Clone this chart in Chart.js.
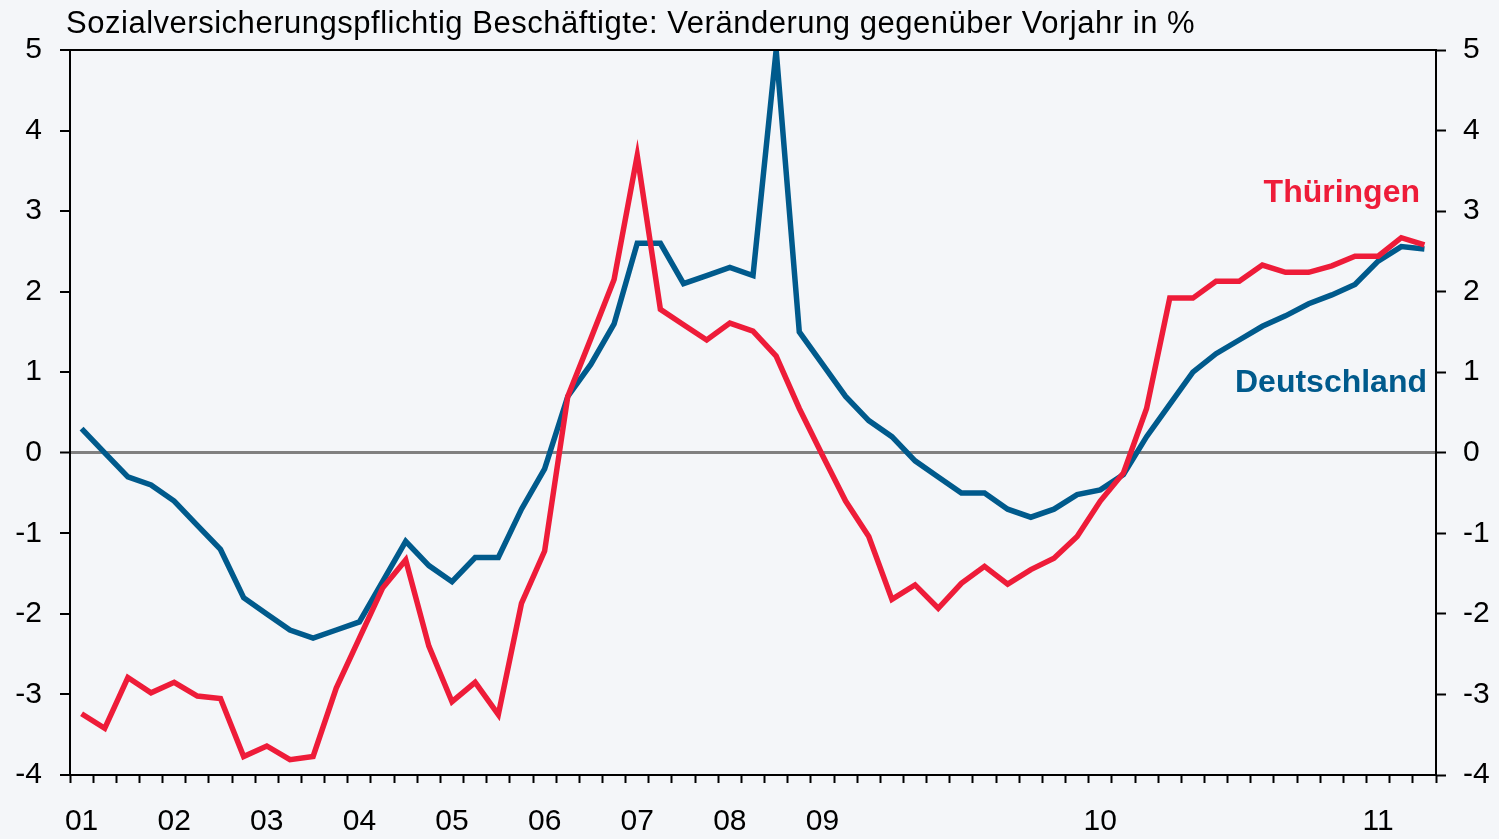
<!DOCTYPE html>
<html>
<head>
<meta charset="utf-8">
<script src="https://cdn.jsdelivr.net/npm/chart.js@4.4.1/dist/chart.umd.min.js"></script>
<style>
    html, body { margin: 0; padding: 0; background: #F4F6F9; }
    #wrap { width: 1499px; height: 839px; position: relative; }
</style>
</head>
<body>
<div id="wrap"><canvas id="beschChart"></canvas></div>
<script>
// Quarterly 2001-2008, monthly from 2009 on
const categories = [
    '2001-Q1', '2001-Q2', '2001-Q3', '2001-Q4', '2002-Q1', '2002-Q2', '2002-Q3', '2002-Q4',
    '2003-Q1', '2003-Q2', '2003-Q3', '2003-Q4', '2004-Q1', '2004-Q2', '2004-Q3', '2004-Q4',
    '2005-Q1', '2005-Q2', '2005-Q3', '2005-Q4', '2006-Q1', '2006-Q2', '2006-Q3', '2006-Q4',
    '2007-Q1', '2007-Q2', '2007-Q3', '2007-Q4', '2008-Q1', '2008-Q2', '2008-Q3', '2008-Q4',
    '2009-01', '2009-02', '2009-03', '2009-04', '2009-05', '2009-06',
    '2009-07', '2009-08', '2009-09', '2009-10', '2009-11', '2009-12',
    '2010-01', '2010-02', '2010-03', '2010-04', '2010-05', '2010-06',
    '2010-07', '2010-08', '2010-09', '2010-10', '2010-11', '2010-12',
    '2011-01', '2011-02', '2011-03'
];

const thueringen = [
    -3.24, -3.42, -2.79, -2.98, -2.85, -3.02, -3.05, -3.77,
    -3.64, -3.81, -3.77, -2.92, -2.30, -1.68, -1.33, -2.40,
    -3.09, -2.85, -3.25, -1.87, -1.22, 0.70, 1.42, 2.15,
    3.69, 1.78, 1.59, 1.40, 1.61, 1.51, 1.20, 0.55,
    -0.03, -0.60, -1.04, -1.82, -1.64, -1.93,
    -1.62, -1.41, -1.63, -1.45, -1.31, -1.04,
    -0.60, -0.25, 0.55, 1.92, 1.92, 2.13,
    2.13, 2.33, 2.24, 2.24, 2.32, 2.44,
    2.44, 2.67, 2.58
];

const deutschland = [
    0.30, 0.00, -0.30, -0.40, -0.60, -0.90, -1.20, -1.80,
    -2.00, -2.20, -2.30, -2.20, -2.10, -1.60, -1.10, -1.40,
    -1.60, -1.30, -1.30, -0.70, -0.20, 0.70, 1.10, 1.60,
    2.60, 2.60, 2.10, 2.20, 2.30, 2.20, 5.00, 1.50,
    1.10, 0.70, 0.40, 0.20, -0.10, -0.30,
    -0.50, -0.50, -0.70, -0.80, -0.70, -0.52,
    -0.46, -0.27, 0.20, 0.60, 1.00, 1.23,
    1.40, 1.57, 1.70, 1.85, 1.96, 2.09,
    2.38, 2.56, 2.53
];

const yMin = -4;
const yMax = 5;

const titleText = 'Sozialversicherungspflichtig Beschäftigte: Veränderung gegenüber Vorjahr in %';
const fontFamily = "'Liberation Sans', Arial, sans-serif";

// year label on first quarter / first month of each year
function yearLabel(i) {
    const c = categories[i];
    if (c.endsWith('Q1') || c.endsWith('-01')) return c.slice(2, 4);
    return '';
}

const frameAndText = {
    id: 'frameAndText',
    beforeDraw(chart) {
        const ctx = chart.ctx;
        ctx.save();
        ctx.fillStyle = '#F4F6F9';
        ctx.fillRect(0, 0, chart.width, chart.height);
        ctx.restore();
    },
    afterDraw(chart) {
        const ctx = chart.ctx;
        const area = chart.chartArea;
        ctx.save();
        // top frame line
        ctx.strokeStyle = '#000';
        ctx.lineWidth = 2;
        ctx.beginPath();
        ctx.moveTo(area.left, area.top);
        ctx.lineTo(area.right, area.top);
        ctx.stroke();

        // title, fitted to the reference width
        ctx.fillStyle = '#000';
        ctx.font = '31px ' + fontFamily;
        ctx.textBaseline = 'alphabetic';
        const w = ctx.measureText(titleText).width;
        if ('letterSpacing' in ctx) {
            ctx.letterSpacing = ((1129 - w) / (titleText.length - 1)).toFixed(2) + 'px';
        }
        ctx.fillText(titleText, 66, 33);
        if ('letterSpacing' in ctx) ctx.letterSpacing = '0px';

        // series names
        ctx.font = 'bold 32px ' + fontFamily;
        ctx.textAlign = 'right';
        ctx.fillStyle = '#EE1C39';
        ctx.fillText('Thüringen', 1420, 202);
        ctx.fillStyle = '#005A8C';
        ctx.fillText('Deutschland', 1427, 392);
        ctx.restore();
    }
};

const ctx = document.getElementById('beschChart');

new Chart(ctx, {
    type: 'line',
    data: {
        labels: categories,
        datasets: [
            {
                label: 'Thüringen',
                data: thueringen,
                borderColor: '#EE1C39',
                borderWidth: 5.5,
                pointRadius: 0,
                tension: 0,
                clip: 0
            },
            {
                label: 'Deutschland',
                data: deutschland,
                borderColor: '#005A8C',
                borderWidth: 5.5,
                pointRadius: 0,
                tension: 0,
                clip: 0
            }
        ]
    },
    options: {
        responsive: true,
        maintainAspectRatio: false,
        animation: false,
        layout: {
            padding: { top: 50, left: 0, right: 0, bottom: 0 }
        },
        plugins: {
            legend: { display: false },
            title: { display: false },
            tooltip: { enabled: false }
        },
        scales: {
            x: {
                type: 'category',
                offset: true,
                afterFit(axis) { axis.height = 64; },
                grid: {
                    offset: true,
                    drawOnChartArea: false,
                    drawTicks: true,
                    tickLength: 8,
                    tickColor: '#000',
                    tickWidth: 2
                },
                border: { display: true, color: '#000', width: 2 },
                ticks: {
                    autoSkip: false,
                    maxRotation: 0,
                    minRotation: 0,
                    padding: 21,
                    color: '#000',
                    font: { family: fontFamily, size: 30 },
                    callback: (value, index) => yearLabel(index)
                }
            },
            y: {
                position: 'left',
                min: yMin,
                max: yMax,
                afterFit(axis) { axis.width = 70; },
                grid: {
                    drawTicks: true,
                    tickLength: 10,
                    tickColor: '#000',
                    tickWidth: 2,
                    color: (c) => (c.tick && c.tick.value === 0 ? '#808080' : 'rgba(0,0,0,0)'),
                    lineWidth: (c) => (c.tick && c.tick.value === 0 ? 3 : 0)
                },
                border: { display: true, color: '#000', width: 2 },
                ticks: {
                    stepSize: 1,
                    padding: 18,
                    color: '#000',
                    font: { family: fontFamily, size: 30 }
                }
            },
            y2: {
                position: 'right',
                min: yMin,
                max: yMax,
                afterFit(axis) { axis.width = 63; },
                grid: {
                    drawOnChartArea: false,
                    drawTicks: true,
                    tickLength: 10,
                    tickColor: '#000',
                    tickWidth: 2
                },
                border: { display: true, color: '#000', width: 2 },
                ticks: {
                    stepSize: 1,
                    padding: 17,
                    color: '#000',
                    font: { family: fontFamily, size: 30 }
                }
            }
        }
    },
    plugins: [frameAndText]
});
</script>
</body>
</html>
